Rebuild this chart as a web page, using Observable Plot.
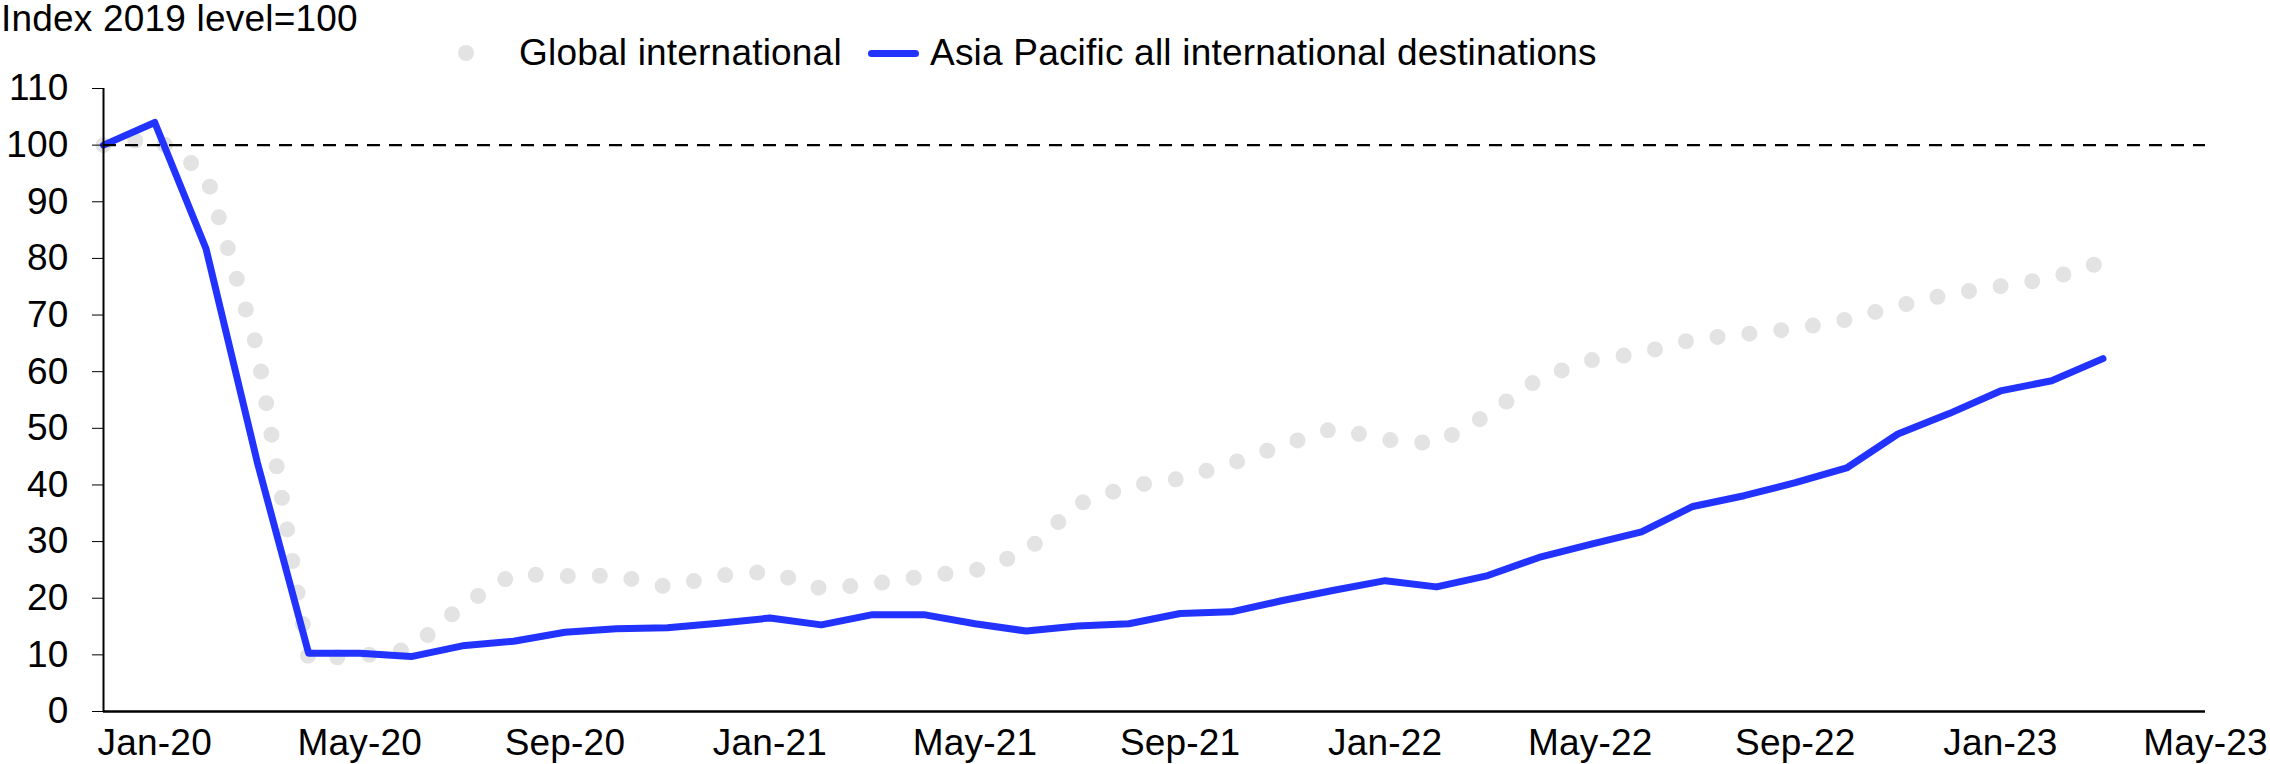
<!DOCTYPE html>
<html>
<head>
<meta charset="utf-8">
<script src="https://cdn.jsdelivr.net/npm/d3@7"></script>
<script src="https://cdn.jsdelivr.net/npm/@observablehq/plot@0.6"></script>
<style>
  html, body { margin: 0; padding: 0; background: #fff; }
  #wrap { width: 2270px; font-family: "Liberation Sans", Arial, sans-serif; color: #000; }
  #head { position: relative; width: 2270px; height: 64px; font-size: 37px; line-height: 37px; letter-spacing: 0.2px; }
  #head .t { position: absolute; white-space: nowrap; }
  #dot { position: absolute; width: 16px; height: 16px; border-radius: 50%; background: #e3e3e3; }
  #seg { position: absolute; height: 7px; border-radius: 4px; background: #2233ff; }
  svg text { letter-spacing: 0.2px; }
</style>
</head>
<body>
<div id="wrap">
  <div id="head">
    <div class="t" id="title" style="left:1px;top:0px;"></div>
    <div id="dot" style="left:458px;top:45px;"></div>
    <div class="t" id="lg1" style="left:519px;top:34px;"></div>
    <div id="seg" style="left:868px;top:50px;width:51px;"></div>
    <div class="t" id="lg2" style="left:930px;top:34px;"></div>
  </div>
  <div id="chart"></div>
</div>
<script>
// Month categories along the x axis (Dec-19 .. May-23)
const axisMonths = ["Dec-19","Jan-20","Feb-20","Mar-20","Apr-20","May-20","Jun-20","Jul-20","Aug-20","Sep-20","Oct-20","Nov-20","Dec-20",
  "Jan-21","Feb-21","Mar-21","Apr-21","May-21","Jun-21","Jul-21","Aug-21","Sep-21","Oct-21","Nov-21","Dec-21",
  "Jan-22","Feb-22","Mar-22","Apr-22","May-22","Jun-22","Jul-22","Aug-22","Sep-22","Oct-22","Nov-22","Dec-22",
  "Jan-23","Feb-23","Mar-23","Apr-23","May-23"];

// Series values (Index 2019 level = 100), Dec-19 .. Mar-23
const globalIntl = [100, 101.3, 95, 64, 9.3, 9.8, 11.0, 18.7, 24.3, 23.9, 24.0, 22.0, 24.0,
  24.7, 21.7, 22.5, 23.9, 24.9, 28.2, 36.6, 39.8, 41.1, 43.8, 47.0, 50.0,
  48.0, 47.3, 52.4, 58.8, 62.0, 63.3, 65.7, 66.6, 67.6, 69.2, 71.6, 73.7,
  75.1, 76.5, 79.4];
const asiaPacific = [100, 104, 81.7, 44, 10.3, 10.3, 9.7, 11.6, 12.4, 14.0, 14.6, 14.8, 15.6,
  16.5, 15.3, 17.1, 17.1, 15.5, 14.2, 15.1, 15.5, 17.3, 17.6, 19.6, 21.4,
  23.1, 22.0, 24.0, 27.2, 29.5, 31.7, 36.2, 38.1, 40.4, 43.0, 49.0, 52.6,
  56.6, 58.4, 62.3];

// Tick labels
const xTickLabels = ["Jan-20","May-20","Sep-20","Jan-21","May-21","Sep-21","Jan-22","May-22","Sep-22","Jan-23","May-23"];
const yTicks = [0, 10, 20, 30, 40, 50, 60, 70, 80, 90, 100, 110];
const baseline = [100];

const titleText = "Index 2019 level=100";
const seriesNames = ["Global international", "Asia Pacific all international destinations"];

document.getElementById("title").textContent = titleText;
document.getElementById("lg1").textContent = seriesNames[0];
document.getElementById("lg2").textContent = seriesNames[1];

const rows = globalIntl.map((g, i) => ({i, month: axisMonths[i], global: g, apac: asiaPacific[i]}));
const xTickPos = xTickLabels.map(l => axisMonths.indexOf(l));

const chart = Plot.plot({
  width: 2270,
  height: 700,
  marginLeft: 103,
  marginRight: 65,
  marginTop: 24,
  marginBottom: 53,
  x: {domain: [0, axisMonths.length - 1], label: null},
  y: {domain: [0, 110], label: null},
  style: {fontFamily: "'Liberation Sans', Arial, sans-serif", fontSize: "37px", color: "#000", background: "#fff", overflow: "visible"},
  marks: [
    Plot.lineY(rows, {x: "i", y: "global", stroke: "#e3e3e3", strokeWidth: 16, strokeDasharray: "0 32", strokeLinecap: "round", strokeLinejoin: "round"}),
    Plot.lineY(rows, {x: "i", y: "apac", stroke: "#2233ff", strokeWidth: 7, strokeLinecap: "round", strokeLinejoin: "round"}),
    Plot.ruleY(baseline, {stroke: "#000", strokeWidth: 2.4, strokeDasharray: "13 9"}),
    Plot.ruleX([0], {y1: 0, y2: 110, stroke: "#000", strokeWidth: 2}),
    Plot.ruleY([0], {stroke: "#000", strokeWidth: 2.5}),
    Plot.axisY({ticks: yTicks, tickSize: 11, tickPadding: 24, fontSize: 37, label: null}),
    Plot.axisX({ticks: xTickPos, tickFormat: i => axisMonths[i], tickSize: 0, tickPadding: 17, fontSize: 37, label: null})
  ]
});
document.getElementById("chart").appendChild(chart);
</script>
</body>
</html>
